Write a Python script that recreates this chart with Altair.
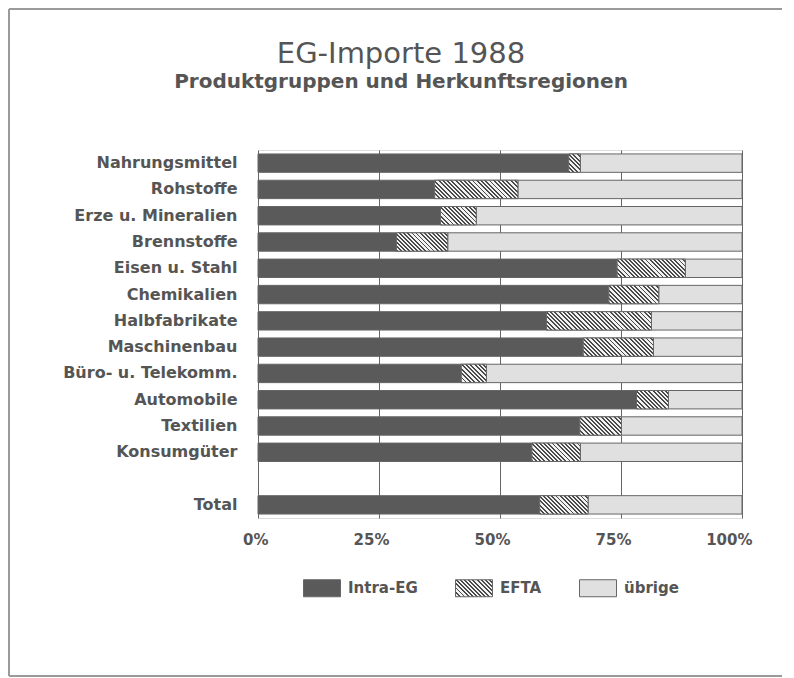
import altair as alt
import pandas as pd

# ---------------- data ----------------
rows = ["Nahrungsmittel", "Rohstoffe", "Erze u. Mineralien", "Brennstoffe",
        "Eisen u. Stahl", "Chemikalien", "Halbfabrikate", "Maschinenbau",
        "Büro- u. Telekomm.", "Automobile", "Textilien", "Konsumgüter", " ", "Total"]
groups = ["Nahrungsmittel", "Rohstoffe", "Erze u. Mineralien", "Brennstoffe",
          "Eisen u. Stahl", "Chemikalien", "Halbfabrikate", "Maschinenbau",
          "Büro- u. Telekomm.", "Automobile", "Textilien", "Konsumgüter", "Total"]
intra_eg = [64.2, 36.5, 37.7, 28.6, 74.2, 72.5, 59.6, 67.2, 42.0, 78.2, 66.5, 56.6, 58.2]
efta     = [2.4, 17.2, 7.4, 10.6, 14.1, 10.3, 21.7, 14.5, 5.2, 6.6, 8.6, 10.0, 10.0]
uebrige  = [33.4, 46.3, 54.9, 60.8, 11.7, 17.2, 18.7, 18.3, 52.8, 15.2, 24.9, 33.4, 31.8]
regions = ["Intra-EG", "EFTA", "übrige"]
x_ticks = [0, 25, 50, 75, 100]

# ---------------- layout ----------------
W, H = 484, 368
PAD_INNER, PAD_OUTER = 0.3, 0.15
px_per_pct = W / 100.0
step = H / (len(rows) - PAD_INNER + 2 * PAD_OUTER)
bar_h = step * (1 - PAD_INNER)

DARK = "#5a5a5a"
LIGHT = "#e0e0e0"
TEXT = "#555555"
FONT = "DejaVu Sans"

long = []
for g, a, b, c in zip(groups, intra_eg, efta, uebrige):
    for i, (r, v) in enumerate(zip(regions, [a, b, c])):
        long.append({"group": g, "region": r, "value": v, "ord": i})
df = pd.DataFrame(long)

df_h = pd.DataFrame({"group": groups, "start": intra_eg,
                     "end": [a + b for a, b in zip(intra_eg, efta)]})


def hatch_stops(w, h, period=4.2, frac=0.45, dark="#4a4a4a", light="#f2f2f2"):
    k = (w + h) / (w * w + h * h)
    n = max(1, round((w + h) / period))
    stops = []
    for i in range(n):
        a, b, c = i / n, (i + frac) / n, (i + 1) / n
        stops += [(a, dark), (b, dark), (b, light), (c, light)]
    return dict(x1=0, y1=1, x2=k * w, y2=1 - k * h, stops=stops)


def hatch_gradient(w, h):
    s = hatch_stops(w, h)
    return alt.LinearGradient(
        gradient="linear", x1=s["x1"], y1=s["y1"], x2=s["x2"], y2=s["y2"],
        stops=[alt.GradientStop(offset=o, color=c) for o, c in s["stops"]])


def hatch_expr(w, h):
    s = hatch_stops(w, h)
    st = ", ".join("{offset: %.4f, color: '%s'}" % (o, c) for o, c in s["stops"])
    return "{gradient: 'linear', x1: %.4f, y1: %.4f, x2: %.4f, y2: %.4f, stops: [%s]}" % (
        s["x1"], s["y1"], s["x2"], s["y2"], st)


y_enc = alt.Y("group:N", sort=rows,
              scale=alt.Scale(domain=rows, paddingInner=PAD_INNER, paddingOuter=PAD_OUTER),
              axis=alt.Axis(title=None, ticks=False, domain=False, labelPadding=21,
                            labelFont=FONT, labelFontWeight="bold", labelFontSize=16,
                            labelColor=TEXT, grid=False))


def x_enc(field, **kw):
    return alt.X(field, scale=alt.Scale(domain=[0, 100], nice=False),
                 axis=alt.Axis(title=None, values=x_ticks, ticks=False, domain=False,
                               labelExpr="datum.value + '%'", labelPadding=14,
                               labelFlush=False, labelAlign="right", labelOffset=10,
                               labelFont=FONT, labelFontWeight="bold", labelFontSize=15,
                               labelColor=TEXT, grid=True, gridColor="#666666",
                               gridWidth=1),
                 **kw)


base = alt.Chart(df).mark_bar(stroke="#666666", strokeWidth=1).encode(
    y=y_enc,
    x=x_enc("value:Q", stack="zero"),
    order=alt.Order("ord:Q", sort="ascending"),
    color=alt.Color("region:N",
                    scale=alt.Scale(domain=regions,
                                    range=[DARK, {"expr": hatch_expr(37, 17)}, LIGHT]),
                    legend=alt.Legend(orient="none", legendX=45, legendY=419,
                                      direction="horizontal", title=None,
                                      symbolType="M-1,-0.46H1V0.46H-1Z", symbolSize=1369,
                                      symbolStrokeColor="#666666", symbolStrokeWidth=1,
                                      labelFont=FONT, labelFontWeight="bold",
                                      labelFontSize=15, labelColor=TEXT,
                                      labelOffset=7, columnPadding=35)),
)

layers = [base]
for g, wpct in zip(groups, efta):
    grad = hatch_gradient(wpct * px_per_pct, bar_h)
    layers.append(
        alt.Chart(df_h).transform_filter(alt.datum.group == g)
        .mark_bar(fill=grad, stroke="#666666", strokeWidth=1)
        .encode(y=y_enc, x=x_enc("start:Q"), x2="end:Q")
    )

# decorative page frame (top, left, bottom edges)
one = alt.Data(values=[{"k": 1}])
frame_style = dict(color="#9a9a9a", strokeWidth=2)
layers.append(alt.Chart(one).mark_rule(**frame_style).encode(
    x=alt.value(-249), x2=alt.value(600), y=alt.value(-141)))
layers.append(alt.Chart(one).mark_rule(**frame_style).encode(
    x=alt.value(-249), y=alt.value(-141), y2=alt.value(526)))
layers.append(alt.Chart(one).mark_rule(**frame_style).encode(
    x=alt.value(-249), x2=alt.value(600), y=alt.value(526)))

chart = alt.layer(*layers).properties(
    width=W, height=H,
    autosize="none",
    padding={"left": 250, "top": 142, "right": 40, "bottom": 160},
    title=alt.Title("EG-Importe 1988",
                    subtitle="Produktgruppen und Herkunftsregionen",
                    anchor="middle", frame="group", dx=-99,
                    font=FONT, fontSize=29, fontWeight="normal",
                    color=TEXT, subtitleFont=FONT, subtitleFontSize=20,
                    subtitleFontWeight="bold", subtitleColor=TEXT,
                    subtitlePadding=3, offset=-84),
).configure_view(stroke="#666666", strokeWidth=1.5).configure(background="white")

chart.save("out.html", embed_options={"renderer": "svg", "actions": False})
